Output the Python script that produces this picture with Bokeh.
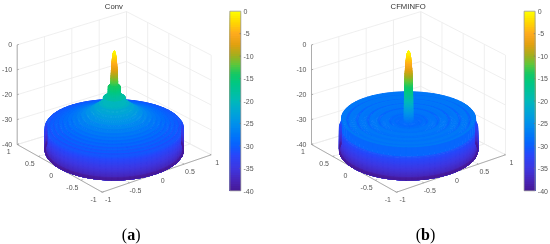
import numpy as np
from bokeh.plotting import figure
from bokeh.models import Range1d, ColumnDataSource
from bokeh.core.properties import value
from bokeh.embed import file_html
from bokeh.resources import INLINE

# Radial pattern profiles (radius, level in dB)
conv_r = [0, .008, .016, .024, .032, .04, .047, .052,
          .056, .07, .086, .09,
          .095, .125, .157, .162,
          .167, .19, .217, .224,
          .229, .255, .282, .289,
          .294, .32, .347, .354,
          .359, .385, .412, .419,
          .424, .45, .477, .484,
          .489, .515, .542, .549,
          .554, .58, .607, .614,
          .619, .645, .672, .679,
          .684, .71, .737, .744,
          .749, .775, .802, .809,
          .814, .84, .867, .874,
          .879, .905, .932, .939,
          .944, .97, .993, 1.0]
conv_z = [0, -.2, -.9, -2.2, -4.2, -7.2, -11, -16,
          -14.5, -13.8, -14.2, -18,
          -18.4, -18.2, -18.6, -22,
          -21.2, -20.8, -21.2, -23,
          -22.5, -22.2, -22.6, -24,
          -23.8, -23.4, -23.9, -25.4,
          -25, -24.6, -25.1, -26.8,
          -26, -25.6, -26, -27.8,
          -26.8, -26.4, -26.8, -28.8,
          -27.5, -27.1, -27.5, -29.6,
          -28.1, -27.7, -28.1, -30.4,
          -28.7, -28.3, -28.7, -31,
          -29.2, -28.9, -29.3, -31.6,
          -29.8, -29.5, -29.8, -32,
          -30.2, -30, -30.3, -32.4,
          -30.6, -30.5, -30.8, -31]
cfm_r = [0, .01, .02, .03, .04, .05, .056, .06, .064,
         .1, .14, .16, .2, .235, .255, .27,
         .285, .3, .34, .395, .41, .425, .445, .49, .555, .57, .585,
         .605, .66, .71, .725, .74, .76, .8, .855, .87, .885, .9, .925, .97, .975, 1.0]
cfm_z = [0, -.2, -.9, -2.5, -5, -9, -14, -20, -28.6,
         -29, -28.6, -29.4, -28.4, -28.2, -28.6, -30,
         -28.4, -27.9, -27.7, -27.9, -28.5, -30.4, -28, -27.4, -27.7, -28.5, -30.6,
         -28, -27.4, -27.6, -28.5, -30.8, -28, -27.3, -27.6, -28.5, -31, -28, -27.3, -27.4, -31, -31]

z_ticks = [0, -10, -20, -30, -40]
xy_ticks = [-1, -.5, 0, .5, 1]
xy_labels = ["-1", "-0.5", "0", "0.5", "1"]
cb_ticks = [0, -5, -10, -15, -20, -25, -30, -35, -40]
titles = ["Conv", "CFMINFO"]
letters = ["a", "b"]

# Colormap of the colour bar (level, colour)
cmap_z = [-40, -38, -35, -32, -30, -28, -25, -22.5, -20, -16, -14, -12, -10, -7.5, -5, -2.5, 0]
cmap_c = [(70, 25, 150), (72, 35, 180), (62, 55, 225), (40, 70, 250), (10, 95, 255), (0, 115, 250),
          (0, 145, 235), (0, 165, 215), (0, 185, 185), (0, 200, 130), (20, 200, 100), (90, 200, 60),
          (160, 175, 30), (225, 160, 15), (255, 170, 30), (255, 215, 0), (255, 255, 0)]


def color(z):
    c = [np.interp(z, cmap_z, [k[i] for k in cmap_c]) for i in range(3)]
    return "#%02x%02x%02x" % tuple(int(round(v)) for v in c)


# Calibration of the 3D box on the page
F = np.array([101.7, 191.7])
R = np.array([210.7, 154.3])
L = np.array([16.7, 144.0])
B = np.array([126.0, 110.7])
DB = 2.49


def proj(x, y, z, dx):
    u = (np.asarray(x, float) + 1) / 2
    v = (np.asarray(y, float) + 1) / 2
    sx = (1-u)*(1-v)*F[0] + u*(1-v)*R[0] + (1-u)*v*L[0] + u*v*B[0] + dx
    fy = (1-u)*(1-v)*F[1] + u*(1-v)*R[1] + (1-u)*v*L[1] + u*v*B[1]
    return sx, fy - DB*(np.asarray(z, float)+40), fy


p = figure(width=550, height=244, x_range=Range1d(0, 550), y_range=Range1d(244, 0),
           x_axis_type=None, y_axis_type=None, min_border=0, outline_line_color=None,
           toolbar_location=None, output_backend="svg",
           styles={"position": "fixed", "left": "0px", "top": "0px"})
p.grid.visible = False

SANS = value("Liberation Sans")
SERIF = value("Liberation Serif")


def seg(xs, ys, col, w):
    p.line(xs, ys, line_color=col, line_width=w)


def panel(idx, rs, zs, dx):
    GRID = "#ebebeb"
    AX = "#9c9c9c"
    # walls and floor grid
    for t in xy_ticks:
        a = proj([t, t], [-1, 1], [-40, -40], dx); seg(a[0], a[1], GRID, .8)
        a = proj([-1, 1], [t, t], [-40, -40], dx); seg(a[0], a[1], GRID, .8)
        a = proj([t, t], [1, 1], [-40, 0], dx); seg(a[0], a[1], GRID, .8)
        a = proj([1, 1], [t, t], [-40, 0], dx); seg(a[0], a[1], GRID, .8)
    for z in z_ticks:
        a = proj([-1, 1, 1], [1, 1, -1], [z, z, z], dx); seg(a[0], a[1], GRID, .8)
    # axes
    a = proj([-1, -1, 1], [1, -1, -1], [-40, -40, -40], dx); seg(a[0], a[1], AX, .8)
    a = proj([-1, -1], [1, 1], [-40, 0], dx); seg(a[0], a[1], AX, .8)
    for t in xy_ticks:
        a = proj([t, t], [-1, -.97], [-40, -40], dx); seg(a[0], a[1], AX, .8)
        a = proj([-1, -.97], [t, t], [-40, -40], dx); seg(a[0], a[1], AX, .8)
    for z in z_ticks:
        a = proj([-1, -.97], [1, 1], [z, z], dx); seg(a[0], a[1], AX, .8)

    # surface
    n = 72
    th = np.linspace(0, 2*np.pi, n+1)
    polys = []
    top = zs[-1]
    # outer wall as nested full bands: each band reaches from the floor to its own level
    levels = np.linspace(top, -40, 19)
    cx0, cy0, cf0 = proj(0, 0, 0, dx)
    wall = []
    for k in range(len(levels)-1):
        mid = (levels[k]+levels[k+1])/2
        shade = mid + 1.5*(top-mid)/(top+40) if mid > -39 else mid
        for j in range(n):
            xq = [np.cos(th[j]), np.cos(th[j+1]), np.cos(th[j+1]), np.cos(th[j])]
            yq = [np.sin(th[j]), np.sin(th[j+1]), np.sin(th[j+1]), np.sin(th[j])]
            sx, sy, fy = proj(xq, yq, [-40, -40, levels[k], levels[k]], dx)
            if fy.mean() < cf0 - 6:
                continue
            wall.append((list(sx), list(sy), color(shade)))
    for i in range(len(rs)-1):
        r0, r1, z0, z1 = rs[i], rs[i+1], zs[i], zs[i+1]
        # spike: finer colour steps along its height, fewer around it
        spike = r1 <= .1
        m = max(1, int(np.ceil(abs(z1-z0)/.7))) if spike else 1
        step = 3 if spike else 1
        tt = th[::step]
        for s in range(m):
            ra, rb = r0+(r1-r0)*s/m, r0+(r1-r0)*(s+1)/m
            za, zb = z0+(z1-z0)*s/m, z0+(z1-z0)*(s+1)/m
            for j in range(len(tt)-1):
                c0, s0, c1, s1 = np.cos(tt[j]), np.sin(tt[j]), np.cos(tt[j+1]), np.sin(tt[j+1])
                xq = [ra*c0, rb*c0, rb*c1, ra*c1]
                yq = [ra*s0, rb*s0, rb*s1, ra*s1]
                sx, sy, fy = proj(xq, yq, [za, zb, zb, za], dx)
                polys.append((fy.mean(), list(sx), list(sy), color((za+zb)/2)))
    polys.sort(key=lambda q: q[0])
    src = ColumnDataSource(dict(xs=[q[1] for q in polys], ys=[q[2] for q in polys], c=[q[3] for q in polys]))
    p.patches("xs", "ys", source=src, fill_color="c", line_color="c", line_width=.7)
    src2 = ColumnDataSource(dict(xs=[q[0] for q in wall], ys=[q[1] for q in wall], c=[q[2] for q in wall]))
    p.patches("xs", "ys", source=src2, fill_color="c", line_color="c", line_width=.7)

    # colour bar: nested bands, each reaching from the bottom to its own level
    yb = lambda z: 10.7 + (0 - np.asarray(z, float)) * 179.6 / 40
    lv = np.arange(0, -40, -.5)
    p.quad(left=229.3+dx, right=240.3+dx, bottom=yb(-40), top=yb(lv),
           fill_color=[color(v-.25) for v in lv], line_color=None)
    p.quad(left=[229.3+dx], right=[240.3+dx], bottom=[yb(-40)], top=[yb(0)],
           fill_color=None, line_color="#9a9a9a", line_width=.8)
    for t in cb_ticks[1:-1]:
        seg([239+dx, 240.3+dx], [yb(t), yb(t)], "#777777", .7)
    p.text(x=[243+dx]*len(cb_ticks), y=yb(cb_ticks)+.2, text=[str(t) for t in cb_ticks],
           text_font=SANS, text_font_size="7px", text_color="#555555",
           text_align="left", text_baseline="middle")

    # axis labels
    sx, sy, _ = proj([-1]*5, [1]*5, z_ticks, dx)
    p.text(x=sx-5, y=sy-.3, text=[str(t) for t in z_ticks], text_font=SANS, text_font_size="7px",
           text_color="#555555", text_align="right", text_baseline="middle")
    sx, sy, _ = proj([-1]*5, xy_ticks, [-40]*5, dx)
    p.text(x=sx-8.6, y=sy+6.8, text=xy_labels, text_font=SANS, text_font_size="7px",
           text_color="#555555", text_align="center", text_baseline="middle")
    sx, sy, _ = proj(xy_ticks, [-1]*5, [-40]*5, dx)
    p.text(x=sx+6, y=sy+7.2, text=xy_labels, text_font=SANS, text_font_size="7px",
           text_color="#555555", text_align="center", text_baseline="middle")
    # title and panel letter
    p.text(x=[113.3+dx], y=[5.8], text=[titles[idx]], text_font=SANS, text_font_size="7.7px",
           text_color="#333333", text_align="center", text_baseline="middle")
    cx = 130.7 + dx
    wid = 8.0 if idx == 0 else 8.9
    p.text(x=[cx - wid/2], y=[234], text=["("], text_font=SERIF, text_font_size="16px",
           text_color="#000000", text_align="right", text_baseline="middle")
    p.text(x=[cx], y=[234], text=[letters[idx]], text_font=SERIF, text_font_size="16px",
           text_font_style="bold", text_color="#000000", text_align="center", text_baseline="middle")
    p.text(x=[cx + wid/2], y=[234], text=[")"], text_font=SERIF, text_font_size="16px",
           text_color="#000000", text_align="left", text_baseline="middle")


panel(0, conv_r, conv_z, 0)
panel(1, cfm_r, cfm_z, 294.3)

open("out.html", "w").write(file_html(p, INLINE))
